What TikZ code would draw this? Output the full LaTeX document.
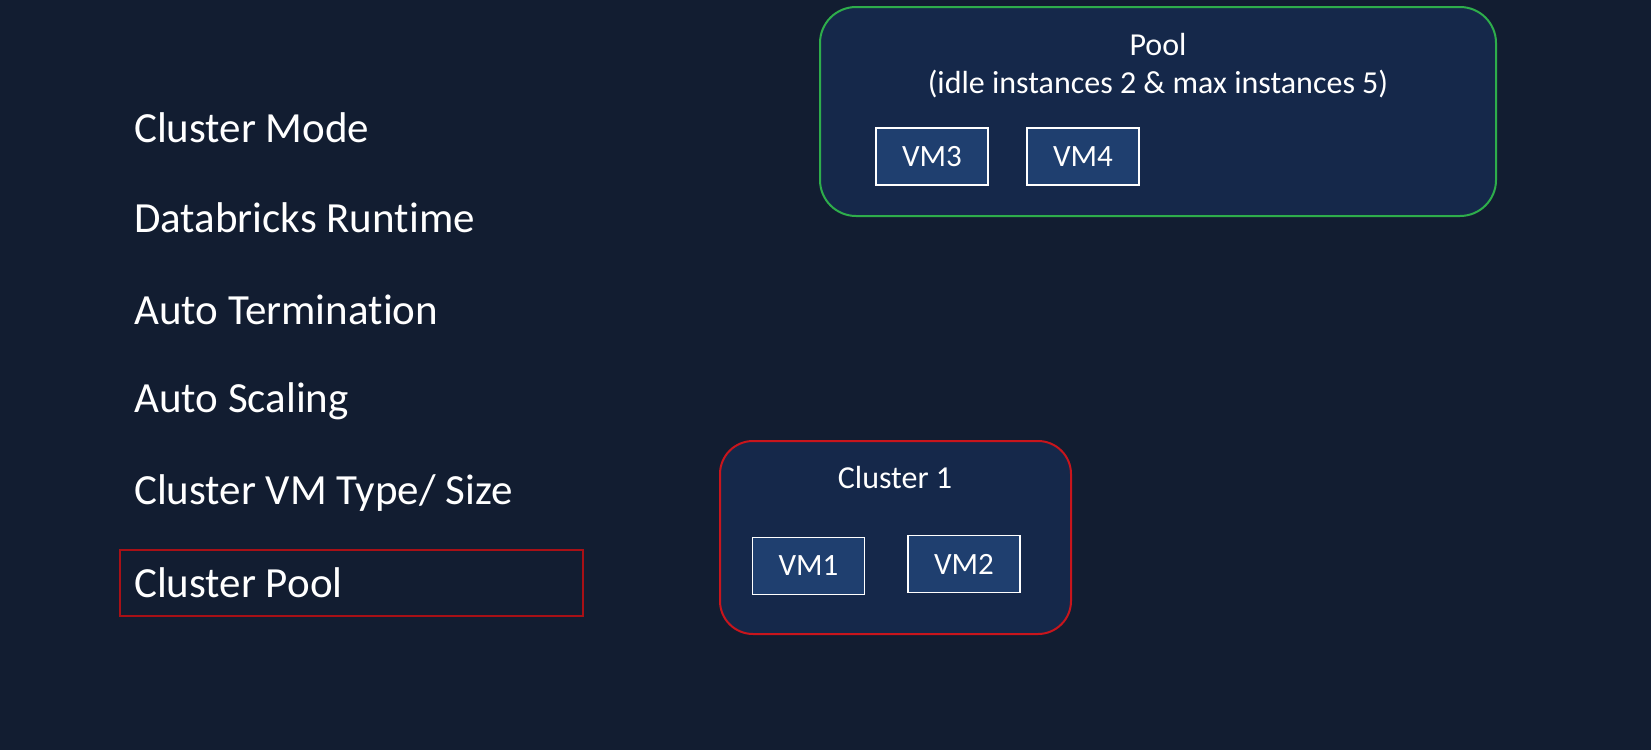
\documentclass[tikz,border=0pt]{standalone}
\usepackage{fontspec}
\setmainfont{Carlito}[Ligatures=NoCommon]
\definecolor{bg}{HTML}{121D31}
\definecolor{boxfill}{HTML}{15284A}
\definecolor{vmfill}{HTML}{1F3F6F}
\definecolor{poolgreen}{HTML}{2EAD4B}
\definecolor{clred}{HTML}{C8151C}
\definecolor{selred}{HTML}{A81016}
\begin{document}
\begin{tikzpicture}[x=1pt,y=-1pt,
  item/.style={anchor=west,inner sep=0pt,text=white,font=\fontsize{43}{50}\selectfont},
  title/.style={inner sep=0pt,text=white,font=\fontsize{32}{39}\selectfont,align=center},
  vm/.style={draw=white,line width=1.8pt,fill=vmfill,text=white,minimum width=112pt,minimum height=57pt,inner sep=0pt,font=\fontsize{31}{37}\selectfont},
  group/.style={line width=2pt,fill=boxfill,rounded corners=36pt,inner sep=0pt}]
\fill[bg] (0,0) rectangle (1651,750);
\useasboundingbox (0,0) rectangle (1651,750);
% pool
\node[group,draw=poolgreen,minimum width=676pt,minimum height=209pt] (pool) at (1158,111.5) {};
\node[title] (pooltitle) at (1158,44) {Pool};
\node[title] (poolsub) at (1158,84) {(idle instances 2 \& max instances 5)};
\node[vm] (vm3) at (932,156.5) {VM3};
\node[vm] (vm4) at (1083,156.5) {VM4};
% cluster
\node[group,draw=clred,minimum width=351pt,minimum height=193pt,rounded corners=33pt] (cl) at (895.5,537.5) {};
\node[title] (cltitle) at (895,477) {Cluster 1};
\node[vm] (vm1) at (808.5,566) {VM1};
\node[vm] (vm2) at (964,564) {VM2};
% list
\node[item] (i1) at (134,128) {Cluster Mode};
\node[item] (i2) at (134,218) {Databricks Runtime};
\node[item] (i3) at (134,310) {Auto Termination};
\node[item] (i4) at (134,401) {Auto Scaling};
\node[item] (i5) at (134,493) {Cluster VM Type/ Size};
\node[item] (i6) at (134,583) {Cluster Pool};
\node[draw=selred,line width=2.2pt,minimum width=463pt,minimum height=66pt,inner sep=0pt] (sel) at (351.5,583) {};
\end{tikzpicture}
\end{document}
